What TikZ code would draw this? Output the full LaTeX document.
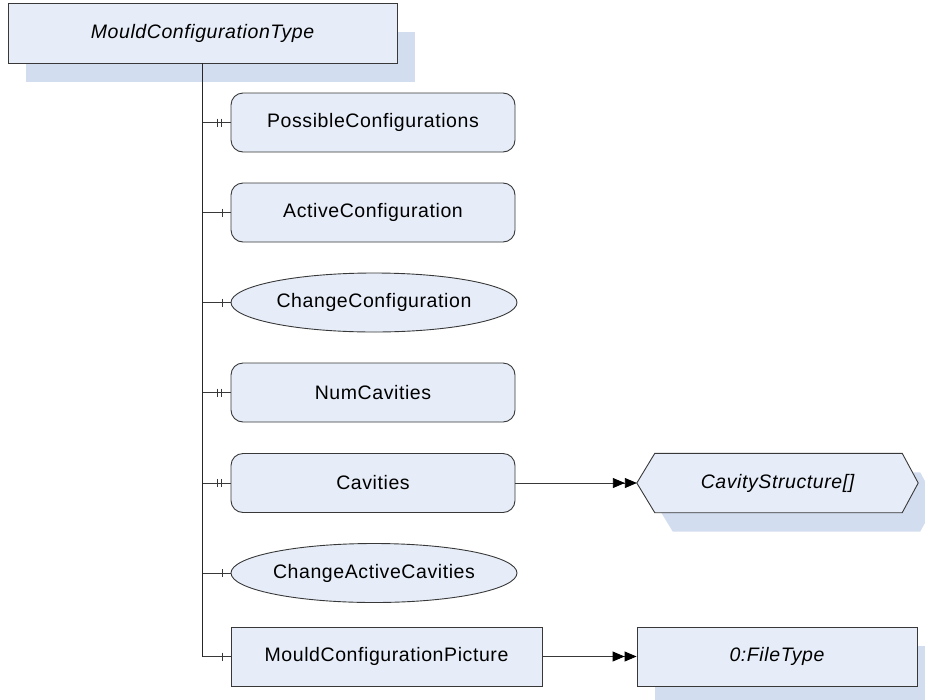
\documentclass[tikz,border=0pt]{standalone}
\usepackage{fontspec}
\setmainfont{Liberation Sans}[LetterSpace=3]
\usetikzlibrary{shapes.geometric,arrows.meta,shadows,backgrounds}
\definecolor{nodefill}{HTML}{E6EDF8}
\definecolor{shadowfill}{HTML}{D2DDEF}
\definecolor{edgegray}{HTML}{383838}
\tikzset{every node/.style={font=\fontsize{19.5}{22}\selectfont, inner sep=0pt},
  typebox/.style={rectangle, draw=edgegray, line width=0.9pt, fill=nodefill, minimum height=60pt, font=\fontsize{19.5}{22}\selectfont\itshape},
  elembox/.style={rectangle, rounded corners=12pt, draw=edgegray, line width=0.9pt, fill=nodefill, minimum width=284pt, minimum height=59pt},
  methnode/.style={ellipse, draw=edgegray, line width=0.9pt, fill=nodefill, minimum width=286pt, minimum height=59pt},
  typeshadow/.style={drop shadow={shadow xshift=18pt, shadow yshift=-19pt, fill=shadowfill, draw=none, opacity=1}},
  trunk/.style={black!85, line width=1.2pt},
  branch/.style={edgegray, line width=0.9pt},
  refline/.style={edgegray, line width=0.9pt, -{Triangle[length=12pt,width=10pt,color=black]Triangle[length=12pt,width=10pt,color=black]}}}

\begin{document}
\begin{tikzpicture}[x=1pt,y=-1pt]
  \useasboundingbox (0,0) rectangle (925,699);
  % type at the top
  \node[typebox, minimum width=389pt] (mct) at (202.5,33) {MouldConfigurationType};
  % children
  \node[elembox] (posconf) at (373,122.5) {PossibleConfigurations};
  \node[elembox] (actconf) at (373,212.5) {ActiveConfiguration};
  \node[methnode] (chgconf) at (374,302.5) {ChangeConfiguration};
  \node[elembox] (numcav) at (373,392.5) {NumCavities};
  \node[elembox] (cav) at (373,483) {Cavities};
  \node[methnode] (chgcav) at (374,573) {ChangeActiveCavities};
  \node[typebox, font=\fontsize{19.5}{22}\selectfont, minimum width=311pt, minimum height=59pt] (mcpic) at (386.5,656.5) {MouldConfigurationPicture};
  % referenced types
  \node[minimum width=281pt, minimum height=59pt, font=\fontsize{19.5}{22}\selectfont\itshape] (cavtype) at (777.5,483) {CavityStructure[]};
  \node[typebox, typeshadow, minimum width=280pt, minimum height=59pt] (filetype) at (777,656.5) {0:FileType};
  \begin{pgfonlayer}{background}
    \fill[shadowfill] ([shift={(18pt,-29pt)}]mct.north west) rectangle ([shift={(18pt,-19pt)}]mct.south east);
    \draw[typeshadow, draw=edgegray, line width=0.9pt, fill=nodefill] (cavtype.west) -- ([xshift=18pt]cavtype.north west)
      -- ([xshift=-16pt]cavtype.north east) -- (cavtype.east) -- ([xshift=-16pt]cavtype.south east)
      -- ([xshift=18pt]cavtype.south west) -- cycle;
  \end{pgfonlayer}
  % tree
  \draw[trunk] (mct.south) -- (mct.south |- mcpic.west);
  \foreach \n/\ts in {posconf/{9,13}, actconf/{8}, chgconf/{8}, numcav/{9,13}, cav/{9,13}, chgcav/{8}, mcpic/{8}}{
    \draw[branch] (mct.south |- \n.west) -- (\n.west);
    \foreach \d in \ts
      \draw[branch] ([xshift=-\d pt, yshift=4pt]\n.west) -- ([xshift=-\d pt, yshift=-4pt]\n.west);
  }
  \draw[refline] (cav.east) -- (cavtype.west);
  \draw[refline] (mcpic.east) -- (filetype.west);
\end{tikzpicture}
\end{document}
